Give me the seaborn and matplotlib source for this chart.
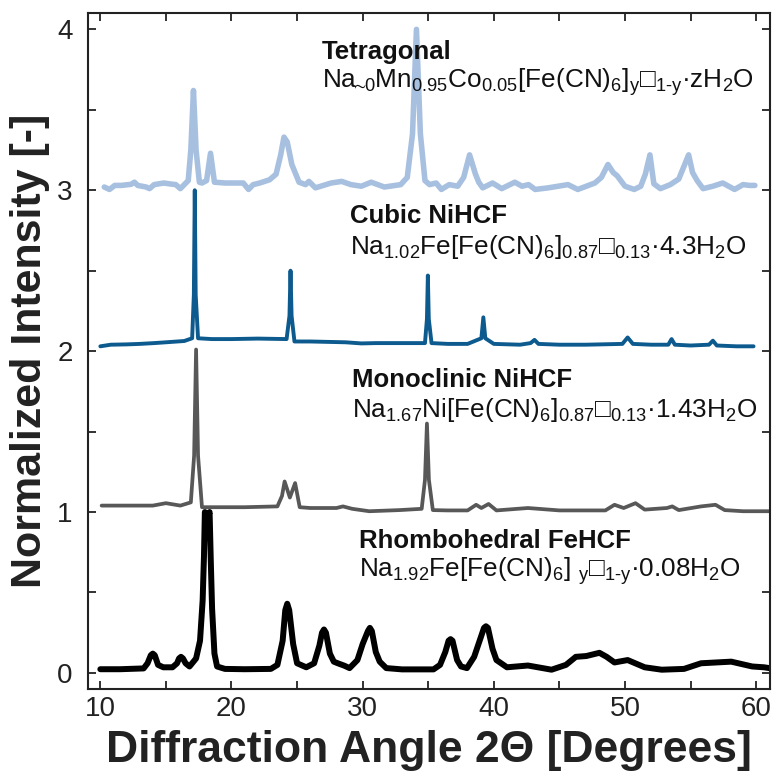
import numpy as np
import pandas as pd
import matplotlib
matplotlib.use("Agg")
import matplotlib.pyplot as plt
from matplotlib.ticker import MultipleLocator
import seaborn as sns

# ---------------- data (normalized intensity) -------------
rh_x = [10.0, 11.5, 13.3, 13.6, 13.85, 14.0, 14.15, 14.4, 14.8, 15.5, 15.85, 16.0, 16.15, 16.3,
        16.5, 16.8, 17.3, 17.6, 17.8, 17.9, 17.97, 18.15, 18.33, 18.42, 18.52, 18.7, 18.9,
        19.5, 21.0, 23.0, 23.5, 23.9, 24.1, 24.25, 24.4, 24.7, 25.0, 25.7, 26.3, 26.7, 26.9,
        27.05, 27.2, 27.5, 27.8, 28.1, 28.6, 29.0, 29.6, 30.0, 30.4, 30.55, 30.7, 31.0, 31.3,
        31.8, 33.0, 35.4, 35.9, 36.3, 36.55, 36.7, 36.85, 37.2, 37.5, 37.95, 38.5, 39.0,
        39.25, 39.4, 39.55, 39.9, 40.2, 41.0, 42.6, 44.4, 45.5, 46.25, 47.05, 48.05, 48.6,
        49.2, 50.2, 51.5, 52.8, 54.5, 55.8, 58.1, 59.7, 60.6, 61.0]
rh_y = [0.023, 0.023, 0.028, 0.06, 0.11, 0.12, 0.11, 0.05, 0.035, 0.035, 0.06, 0.09, 0.10,
        0.09, 0.06, 0.04, 0.09, 0.2, 0.45, 0.72, 1.0, 0.96, 1.0, 0.7, 0.4, 0.12, 0.04, 0.025,
        0.023, 0.025, 0.05, 0.2, 0.39, 0.43, 0.39, 0.18, 0.06, 0.035, 0.06, 0.17, 0.25, 0.27,
        0.25, 0.12, 0.07, 0.06, 0.045, 0.03, 0.08, 0.18, 0.26, 0.28, 0.26, 0.13, 0.07, 0.03,
        0.022, 0.022, 0.05, 0.13, 0.2, 0.21, 0.2, 0.08, 0.04, 0.03, 0.1, 0.22, 0.28, 0.29,
        0.28, 0.15, 0.08, 0.035, 0.046, 0.02, 0.05, 0.1, 0.105, 0.125, 0.1, 0.065, 0.08, 0.035,
        0.02, 0.025, 0.06, 0.07, 0.04, 0.035, 0.03]

mono_x = [10.1, 12.0, 14.0, 15.0, 16.1, 16.9, 17.15, 17.3, 17.45, 17.75, 19.0, 21.0, 23.5, 23.85,
          24.05, 24.45, 24.85, 25.2, 26.0, 28.0, 28.5, 29.2, 30.5, 32.8, 34.5, 34.75, 34.9,
          35.05, 35.35, 36.5, 38.0, 38.65, 39.05, 39.6, 40.2, 42.6, 45.0, 48.5, 49.2, 49.9,
          50.8, 51.5, 53.2, 53.6, 54.1, 55.8, 56.9, 57.6, 59.0, 61.0]
mono_y = [0.04, 0.04, 0.04, 0.055, 0.04, 0.06, 0.35, 1.01, 0.35, 0.03, 0.03, 0.03, 0.035, 0.1,
          0.19, 0.09, 0.18, 0.03, 0.025, 0.025, 0.035, 0.02, 0.005, 0.012, 0.02, 0.2, 0.55,
          0.2, 0.012, 0.01, 0.01, 0.045, 0.025, 0.05, 0.01, 0.025, 0.01, 0.01, 0.045, 0.025,
          0.055, 0.015, 0.025, 0.035, 0.012, 0.035, 0.045, 0.012, 0.005, 0.005]

cub_x = [10.0, 10.8, 12.0, 13.0, 14.1, 15.0, 16.4, 17.0, 17.13, 17.2, 17.27, 17.45, 18.5, 20.0,
         22.0, 24.2, 24.42, 24.5, 24.58, 24.8, 26.0, 28.7, 29.9, 31.0, 33.0, 34.75, 34.9,
         34.97, 35.04, 35.25, 36.5, 38.0, 39.05, 39.2, 39.35, 40.0, 42.0, 42.8, 43.1, 43.4,
         45.0, 47.0, 49.8, 50.2, 50.6, 52.0, 53.3, 53.55, 53.8, 55.0, 56.4, 56.7, 57.0, 58.5,
         59.8]
cub_y = [0.03, 0.04, 0.042, 0.045, 0.05, 0.055, 0.063, 0.08, 0.35, 1.0, 0.35, 0.08, 0.075, 0.075,
         0.078, 0.075, 0.22, 0.50, 0.22, 0.06, 0.06, 0.055, 0.048, 0.05, 0.05, 0.05, 0.2,
         0.47, 0.2, 0.05, 0.045, 0.045, 0.08, 0.21, 0.08, 0.045, 0.04, 0.05, 0.07, 0.045,
         0.04, 0.04, 0.045, 0.085, 0.045, 0.04, 0.04, 0.075, 0.04, 0.035, 0.04, 0.065, 0.035,
         0.03, 0.03]

tet_x = [10.3, 10.7, 11.1, 11.6, 12.35, 12.6, 12.85, 13.5, 13.75, 14.1, 14.85, 15.25, 15.75,
         16.1, 16.4, 16.7, 16.9, 17.1, 17.3, 17.55, 17.75, 18.1, 18.4, 18.7, 19.5, 20.9, 21.3,
         21.65, 22.15, 22.9, 23.4, 23.75, 24.0, 24.25, 24.6, 24.9, 25.15, 25.65, 25.9, 26.4,
         27.6, 28.4, 29.1, 29.9, 30.65, 31.65, 32.9, 33.4, 33.8, 34.1, 34.4, 34.75, 35.1,
         35.6, 36.0, 36.6, 37.25, 37.7, 38.15, 38.6, 38.85, 39.15, 39.9, 40.6, 41.6, 42.15,
         42.65, 43.15, 44.15, 45.65, 46.4, 47.7, 48.2, 48.7, 49.1, 49.4, 50.0, 50.7, 51.2,
         51.55, 51.9, 52.2, 52.7, 53.45, 54.1, 54.45, 54.85, 55.15, 55.5, 55.95, 56.7, 57.45,
         58.35, 59.0, 59.5, 59.9]
tet_y = [0.02, 0.005, 0.03, 0.03, 0.037, 0.05, 0.03, 0.02, 0.01, 0.035, 0.045, 0.04, 0.035,
         0.01, 0.035, 0.06, 0.25, 0.62, 0.25, 0.05, 0.045, 0.06, 0.23, 0.05, 0.045, 0.045, 0.005,
         0.035, 0.045, 0.065, 0.1, 0.22, 0.33, 0.30, 0.16, 0.1, 0.05, 0.035, 0.055, 0.015,
         0.045, 0.055, 0.035, 0.025, 0.05, 0.02, 0.035, 0.08, 0.35, 1.0, 0.35, 0.06, 0.035,
         0.045, 0.005, 0.035, 0.025, 0.08, 0.22, 0.1, 0.05, 0.015, 0.045, 0.01, 0.05, 0.025,
         0.035, 0.005, 0.015, 0.035, 0.005, 0.045, 0.08, 0.16, 0.11, 0.09, 0.025, 0.005, 0.025,
         0.1, 0.22, 0.04, 0.01, 0.035, 0.07, 0.14, 0.22, 0.11, 0.06, 0.01, 0.025, 0.045,
         0.005, 0.035, 0.03, 0.03]

names = ["Rhombohedral FeHCF", "Monoclinic NiHCF", "Cubic NiHCF", "Tetragonal"]
formulas = [
    r"Na$_{\mathrm{1.92}}$Fe[Fe(CN)$_{\mathrm{6}}$] ${}_{\mathrm{y}}$□$_{\mathrm{1}\text{-}\mathrm{y}}$·0.08H$_{\mathrm{2}}$O",
    r"Na$_{\mathrm{1.67}}$Ni[Fe(CN)$_{\mathrm{6}}$]$_{\mathrm{0.87}}$□$_{\mathrm{0.13}}$·1.43H$_{\mathrm{2}}$O",
    r"Na$_{\mathrm{1.02}}$Fe[Fe(CN)$_{\mathrm{6}}$]$_{\mathrm{0.87}}$□$_{\mathrm{0.13}}$·4.3H$_{\mathrm{2}}$O",
    r"Na$_{\!\!\sim\!\!\mathrm{0}}$Mn$_{\mathrm{0.95}}$Co$_{\mathrm{0.05}}$[Fe(CN)$_{\mathrm{6}}$]$_{\mathrm{y}}$□$_{\mathrm{1}\text{-}\mathrm{y}}$·zH$_{\mathrm{2}}$O",
]
series_x = [rh_x, mono_x, cub_x, tet_x]
series_y = [rh_y, mono_y, cub_y, tet_y]
x_ticks = [10, 20, 30, 40, 50, 60]
y_ticks = [0, 1, 2, 3, 4]

# ---------------- style -------------
sns.set_style("ticks")
plt.rcParams["font.family"] = ["Liberation Sans", "DejaVu Sans"]
plt.rcParams["mathtext.fontset"] = "custom"
plt.rcParams["mathtext.rm"] = "Liberation Sans"
plt.rcParams["mathtext.it"] = "Liberation Sans:italic"
plt.rcParams["mathtext.bf"] = "Liberation Sans:bold"
plt.rcParams["mathtext.sf"] = "Liberation Sans"
plt.rcParams["mathtext.fallback"] = "stixsans"

colors = ["#000000", "#585858", "#0D5A8E", "#A8C0E0"]
widths = [4.3, 2.7, 2.8, 4.0]
offsets = [0, 1, 2, 3]
title_pos = [(29.7, 0.82), (29.2, 1.82), (29.0, 2.84), (26.9, 3.86)]
formula_pos = [(29.7, 0.63), (29.2, 1.635), (29.0, 2.65), (26.9, 3.67)]

fig = plt.figure(figsize=(7.76, 7.76), dpi=100)
ax = fig.add_axes([0.1134, 0.1121, 0.8788, 0.8708])

for i in range(4):
    df = pd.DataFrame({"x": series_x[i], "y": np.array(series_y[i]) + offsets[i]})
    sns.lineplot(data=df, x="x", y="y", ax=ax, color=colors[i], lw=widths[i],
                 sort=False, estimator=None, solid_joinstyle="round", solid_capstyle="round")
    ax.text(*title_pos[i], names[i], fontsize=18.5, fontweight="bold", color="#111111",
            ha="left", va="center")
    ax.text(*formula_pos[i], formulas[i], fontsize=18.8, color="#111111",
            ha="left", va="center")

ax.set_xlim(9.06, 61.05)
ax.set_ylim(-0.1, 4.1)
ax.set_xticks(x_ticks)
ax.set_yticks(y_ticks)
ax.xaxis.set_minor_locator(MultipleLocator(5))
ax.yaxis.set_minor_locator(MultipleLocator(0.5))
ax.tick_params(which="both", direction="in", top=True, right=True, length=6, width=1.3,
               color="#222222", labelsize=20, labelcolor="#222222")
ax.tick_params(axis="x", pad=5)
ax.tick_params(axis="y", pad=11)
for s in ax.spines.values():
    s.set_linewidth(1.5)
    s.set_color("#222222")

ax.set_xlabel("Diffraction Angle 2Θ [Degrees]", fontsize=32, fontweight="bold",
              color="#222222", labelpad=6)
ax.set_ylabel("Normalized Intensity [-]", fontsize=31, fontweight="bold",
              color="#222222", labelpad=5)

fig.savefig("out.png", dpi=100)
